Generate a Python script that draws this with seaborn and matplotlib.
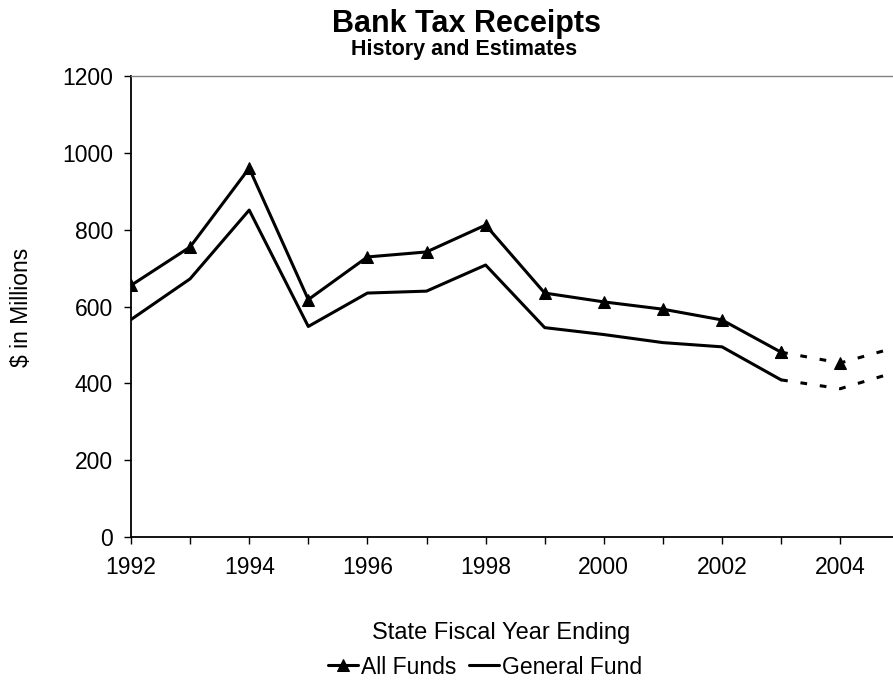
import matplotlib
matplotlib.use("Agg")
import matplotlib.pyplot as plt
import seaborn as sns
import pandas as pd

# values
years = list(range(1992, 2006))
all_funds = [655, 755, 960, 618, 729, 742, 812, 635, 612, 593, 565, 481, 453, 496]
general_fund = [566, 672, 851, 548, 635, 640, 708, 545, 527, 506, 495, 409, 386, 432]
first_estimate = 2003

year_labels = [str(y) if (y - 1992) % 2 == 0 else "" for y in years]
y_ticks = [0, 200, 400, 600, 800, 1000, 1200]


def splitPeriods(data: pd.DataFrame):
    hist = data[data["year"] <= first_estimate]
    est = data[data["year"] >= first_estimate]
    return hist, est


data = pd.DataFrame({"year": years, "All Funds": all_funds, "General Fund": general_fund})
hist, est = splitPeriods(data)

sns.set_style("ticks")
plt.rcParams["font.family"] = ["Liberation Sans", "DejaVu Sans"]
plt.rcParams["text.color"] = "black"
plt.rcParams["xtick.color"] = "black"
plt.rcParams["ytick.color"] = "black"

W, H = 893, 684
fig = plt.figure(figsize=(W / 100, H / 100), dpi=100)
px_per_year = 59.1
x_max = 2005.6
ax = fig.add_axes([131 / W, (H - 537) / H, (x_max - 1992) * px_per_year / W, 461 / H])

line_kw = dict(color="black", linewidth=2.2, ax=ax)
dash = (0, (2.2, 4.2))

sns.lineplot(data=hist, x="year", y="All Funds", marker="^", markersize=9,
             markeredgecolor="black", label="All Funds", **line_kw)
sns.lineplot(data=hist, x="year", y="General Fund", label="General Fund", **line_kw)
sns.lineplot(data=est, x="year", y="All Funds", marker="^", markersize=9,
             markeredgecolor="black", linestyle=dash, **line_kw)
sns.lineplot(data=est, x="year", y="General Fund", linestyle=dash, **line_kw)

ax.set_xlim(1992, x_max)
ax.set_ylim(0, 1200)
ax.set_xticks(years)
ax.set_xticklabels(year_labels)
ax.set_yticks(y_ticks)
ax.set_xlabel("")
ax.set_ylabel("")
ax.tick_params(axis="both", labelsize=16.5, length=5, width=1, direction="out",
               color="black", labelcolor="black")
ax.tick_params(axis="x", pad=9)
ax.tick_params(axis="y", pad=8)
for side in ["left", "bottom"]:
    ax.spines[side].set_color("black")
    ax.spines[side].set_linewidth(1.3)
ax.spines["top"].set_color("#808080")
ax.spines["top"].set_linewidth(1)
ax.spines["right"].set_visible(False)

handles, labels = ax.get_legend_handles_labels()
ax.get_legend().remove()
fig.legend(handles[:2], labels[:2], loc="center", bbox_to_anchor=(485 / W, 1 - 667 / H),
           ncol=2, frameon=False, fontsize=16.5, handlelength=1.3, handletextpad=0.15,
           columnspacing=0.55, labelcolor="black")

fig.text(466 / W, 1 - 24 / H, "Bank Tax Receipts", ha="center", va="center",
         fontsize=22, fontweight="bold", color="black")
fig.text(464 / W, 1 - 50 / H, "History and Estimates", ha="center", va="center",
         fontsize=15.5, fontweight="bold", color="black")
fig.text(501 / W, 1 - 633 / H, "State Fiscal Year Ending", ha="center", va="center",
         fontsize=17, color="black")
fig.text(22 / W, 1 - 307 / H, "$ in Millions", ha="center", va="center", rotation=90,
         fontsize=16.5, color="black")

plt.savefig("out.png", dpi=100)
